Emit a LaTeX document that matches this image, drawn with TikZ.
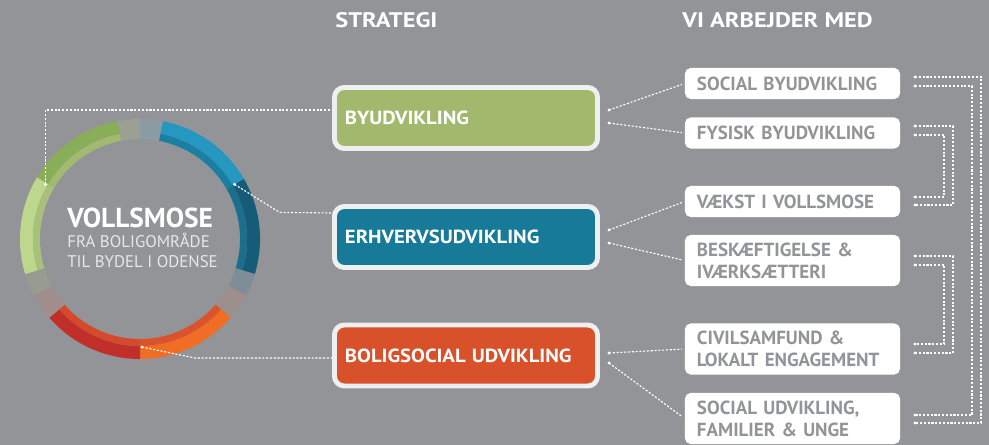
\documentclass[tikz,border=0pt]{standalone}
\usepackage{fontspec}
\setmainfont{PT Sans}
\newfontfamily\stratfont[FakeStretch=1.09]{PT Sans}
\newfontfamily\headfont[FakeStretch=1.16]{PT Sans}
\usepackage{tikz}

\definecolor{bg}{HTML}{929497}
\definecolor{edge}{HTML}{EEEFF0}
\definecolor{byfill}{HTML}{A2B86C}
\definecolor{erfill}{HTML}{177A99}
\definecolor{bofill}{HTML}{D9512A}
\definecolor{subtxt}{HTML}{E6E7E8}
% ring colours
\definecolor{topgreen}{HTML}{9CA092}
\definecolor{topblue}{HTML}{8B9CA5}
\definecolor{blueout}{HTML}{2697C1}
\definecolor{bluein}{HTML}{1A7FA2}
\definecolor{dblueout}{HTML}{165C79}
\definecolor{dbluein}{HTML}{1B6F8D}
\definecolor{greyblue}{HTML}{7E8D97}
\definecolor{greybrown}{HTML}{9D8F8B}
\definecolor{orangeout}{HTML}{EF6D24}
\definecolor{orangein}{HTML}{DB532A}
\definecolor{redout}{HTML}{C12F2A}
\definecolor{redin}{HTML}{D54A2B}
\definecolor{greypink}{HTML}{A28D8D}
\definecolor{greygreen}{HTML}{979C91}
\definecolor{lgreenout}{HTML}{BDD78C}
\definecolor{lgreenin}{HTML}{A9C07A}
\definecolor{greenout}{HTML}{88AE58}
\definecolor{greenin}{HTML}{A2B972}

\tikzset{
  strat/.style={draw=edge, line width=3.5pt, rounded corners=7pt, text=white,
    font=\stratfont\bfseries\fontsize{13.5}{16}\selectfont, minimum height=1.525cm,
    text width=6.05cm, inner xsep=0.2625cm, align=left},
  work/.style={fill=white, rounded corners=4pt, text=bg,
    font=\bfseries\fontsize{13.5}{15.6}\selectfont,
    text width=4.775cm, inner xsep=0.3cm, align=left},
  head/.style={anchor=base west, inner sep=0, text=white,
    font=\headfont\bfseries\fontsize{15}{18}\selectfont},
  link/.style={white, line width=0.8pt, dash pattern=on 1.5pt off 1.2pt},
  linkto/.style={link, shorten >=2pt}
}

% ring piece: start angle, end angle, outer colour, inner colour
\newcommand{\ringpart}[4]{%
  \fill[#3] (#1:3cm) arc[start angle=#1, end angle=#2, radius=3cm]
    -- (#2:2.675cm) arc[start angle=#2, end angle=#1, radius=2.675cm] -- cycle;
  \fill[#4] (#1:2.675cm) arc[start angle=#1, end angle=#2, radius=2.675cm]
    -- (#2:2.5cm) arc[start angle=#2, end angle=#1, radius=2.5cm] -- cycle;
}

\begin{document}
\begin{tikzpicture}[x=0.025cm, y=-0.025cm]
    \fill[bg] (0,0) rectangle (989,445);
    \useasboundingbox (0,0) rectangle (989,445);

    % ring
    \begin{scope}[shift={(140,239)}, x=1cm, y=1cm]
        \ringpart{90}{101}{topgreen}{topgreen}
        \ringpart{79}{90}{topblue}{topblue}
        \ringpart{30}{79}{blueout}{bluein}
        \ringpart{-17}{30}{dblueout}{dbluein}
        \ringpart{-28}{-17}{greyblue}{greyblue}
        \ringpart{-41}{-28}{greybrown}{greybrown}
        \ringpart{-90}{-41}{orangeout}{orangein}
        \ringpart{-139}{-90}{redout}{redin}
        \ringpart{-152}{-139}{greypink}{greypink}
        \ringpart{-163}{-152}{greygreen}{greygreen}
        \ringpart{149}{197}{lgreenout}{lgreenin}
        \ringpart{101}{149}{greenout}{greenin}
        \coordinate (ringG) at (150:2.73cm);
        \coordinate (ringB) at (30:2.73cm);
        \coordinate (ringO) at (-89:2.7cm);
    \end{scope}

    \node[head, font=\bfseries\fontsize{19.5}{22}\selectfont] (title) at (67,228) {VOLLSMOSE};
    \node[head, font=\fontsize{12}{14}\selectfont, text=subtxt] (sub1) at (67,248) {FRA BOLIGOMRÅDE};
    \node[head, font=\fontsize{12}{14}\selectfont, text=subtxt] (sub2) at (67,268) {TIL BYDEL I ODENSE};

    % headings
    \node[head] (strategi) at (335,28) {STRATEGI};
    \node[head] (arbejder) at (682,28) {VI ARBEJDER MED};

    % strategy boxes
    \node[strat, fill=byfill] (byud) at (466,118) {BYUDVIKLING};
    \node[strat, fill=erfill] (erhv) at (466,237) {ERHVERVSUDVIKLING};
    \node[strat, fill=bofill] (bolig) at (466,355.5) {BOLIGSOCIAL UDVIKLING};

    % work boxes
    \node[work, minimum height=0.775cm] (sb) at (792.5,83.5) {SOCIAL BYUDVIKLING};
    \node[work, minimum height=0.775cm] (fb) at (792.5,133) {FYSISK BYUDVIKLING};
    \node[work, minimum height=0.775cm] (vk) at (792.5,201.5) {VÆKST I VOLLSMOSE};
    \node[work, minimum height=1.275cm] (be) at (792.5,260.5) {BESKÆFTIGELSE \&\\IVÆRKSÆTTERI};
    \node[work, minimum height=1.275cm] (ce) at (792.5,349) {CIVILSAMFUND \&\\LOKALT ENGAGEMENT};
    \node[work, minimum height=1.275cm] (su) at (792.5,418.5) {SOCIAL UDVIKLING,\\FAMILIER \& UNGE};

    % connector ends
    \coordinate (byIn) at (333,110);
    \coordinate (erIn) at (333,213);
    \coordinate (boIn) at (333,358);
    \coordinate (byA) at (609,110);
    \coordinate (byB) at (609,123);
    \coordinate (erA) at (609,230);
    \coordinate (erB) at (609,243);
    \coordinate (boA) at (609,353);
    \coordinate (boB) at (609,363);
    \coordinate (sbR1) at (915,77);
    \coordinate (sbR2) at (915,86);
    \coordinate (fbR1) at (915,126);
    \coordinate (fbR2) at (915,135);
    \coordinate (vkR1) at (915,197);
    \coordinate (vkR2) at (915,205);
    \coordinate (beR1) at (915,256);
    \coordinate (beR2) at (915,265);
    \coordinate (ceR1) at (915,344);
    \coordinate (ceR2) at (915,353);
    \coordinate (suR1) at (915,415);
    \coordinate (suR2) at (915,423);

    % ring to strategy
    \draw[link] (ringG) |- (byIn);
    \draw[link] (ringB) -- ++(45,28) -- (erIn);
    \draw[link] (ringO) -- ++(53,11) -- (boIn);

    % strategy to work
    \path[linkto] (byA) edge (sb.west);
    \path[linkto] (byB) edge (fb.west);
    \path[linkto] (erA) edge (vk.west);
    \path[linkto] (erB) edge (be.west);
    \path[linkto] (boA) edge (ce.west);
    \path[linkto] (boB) edge (su.west);

    % work to work
    \draw[link] (sbR1) -- ++(66,0) |- (suR2);
    \draw[link] (sbR2) -- ++(57,0) |- (suR1);
    \draw[link] (fbR1) -- ++(38,0) |- (vkR2);
    \draw[link] (fbR2) -- ++(29,0) |- (vkR1);
    \draw[link] (beR1) -- ++(38,0) |- (ceR2);
    \draw[link] (beR2) -- ++(29,0) |- (ceR1);

    \foreach \p in {ringG,ringB,ringO,byA,byB,erA,erB,boA,boB,
        sbR1,sbR2,fbR1,fbR2,vkR1,vkR2,beR1,beR2,ceR1,ceR2,suR1,suR2}
        \fill[white] (\p) circle (1.1pt);
\end{tikzpicture}
\end{document}
